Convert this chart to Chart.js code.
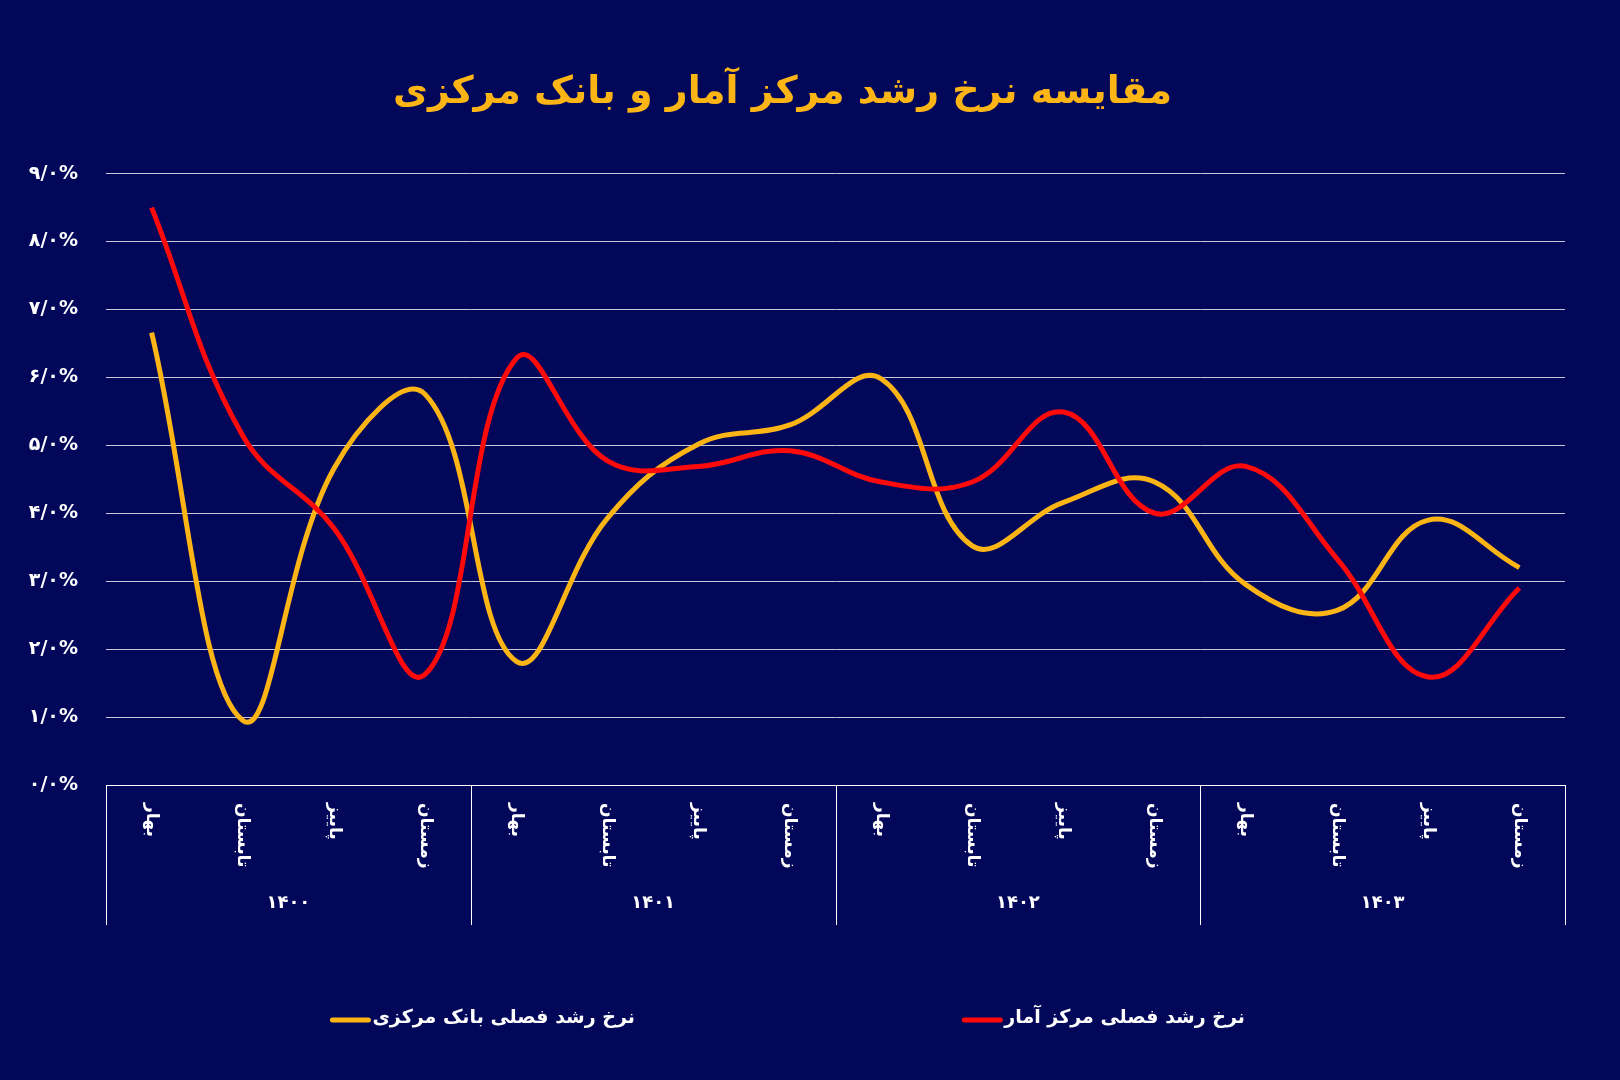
<!DOCTYPE html>
<html><head><meta charset="utf-8">
<script src="https://cdn.jsdelivr.net/npm/chart.js@4"></script>
<style>html,body{margin:0;padding:0;background:#03075a;}#w{width:1620px;height:1080px;}</style>
</head><body><div id="w"><canvas id="c"></canvas></div>
<script>
const years = ['۱۴۰۰','۱۴۰۱','۱۴۰۲','۱۴۰۳'];
const categories = ['بهار','تابستان','پاییز','زمستان','بهار','تابستان','پاییز','زمستان','بهار','تابستان','پاییز','زمستان','بهار','تابستان','پاییز','زمستان'];
const statCenter = [8.5,5.14,3.78,1.63, 6.28,4.77,4.69,4.92, 4.46,4.46,5.49,4.0, 4.69,3.33,1.59,2.9];
const centralBank = [6.66,0.95,4.66,5.75, 1.82,3.93,5.02,5.3, 5.98,3.52,4.16,4.46, 2.95,2.57,3.9,3.2];
const yTickLabels = ['۰/۰%','۱/۰%','۲/۰%','۳/۰%','۴/۰%','۵/۰%','۶/۰%','۷/۰%','۸/۰%','۹/۰%'];
const seriesNames = ['نرخ رشد فصلی مرکز آمار','نرخ رشد فصلی بانک مرکزی'];
const FONT = "'DejaVu Sans', sans-serif";

const axisPlugin = {
  id:'axisPlugin',
  afterDraw(chart){
    const {ctx, chartArea:a, scales:{x}} = chart;
    const bottom = a.bottom + 140;
    ctx.save();
    ctx.strokeStyle='#ffffff'; ctx.lineWidth=1;
    ctx.beginPath(); ctx.moveTo(a.left,a.bottom+0.5); ctx.lineTo(a.right,a.bottom+0.5); ctx.stroke();
    const w = (a.right-a.left)/categories.length;
    for(let g=0; g<=years.length; g++){
      const px = Math.round(a.left + g*4*w)+0.5;
      ctx.beginPath(); ctx.moveTo(px,a.bottom); ctx.lineTo(px,bottom); ctx.stroke();
    }
    ctx.fillStyle='#ffffff';
    ctx.font = "bold 17px "+FONT;
    categories.forEach((c,i)=>{
      const px = x.getPixelForValue(i);
      ctx.save(); ctx.translate(px, a.bottom+18); ctx.rotate(Math.PI/2);
      ctx.textAlign='left'; ctx.textBaseline='middle';
      ctx.fillText(c,0,0); ctx.restore();
    });
    ctx.font = "bold 18px "+FONT; ctx.textAlign='center'; ctx.textBaseline='middle';
    years.forEach((y,g)=>{ ctx.fillText(y, a.left + (g*4+2)*w, a.bottom+118); });
    const ly = 1018;
    const items = [{t:seriesNames[1], c:'#fdb515', x:635},{t:seriesNames[0], c:'#ff0a0a', x:1245}];
    ctx.font = "bold 19px "+FONT; ctx.textAlign='right';
    items.forEach(it=>{
      ctx.fillStyle='#ffffff'; ctx.fillText(it.t, it.x, ly);
      const tw = ctx.measureText(it.t).width;
      ctx.strokeStyle=it.c; ctx.lineWidth=5; ctx.lineCap='round';
      ctx.beginPath(); ctx.moveTo(it.x-tw-4, ly+2); ctx.lineTo(it.x-tw-40, ly+2); ctx.stroke();
    });
    ctx.restore();
  }
};

new Chart(document.getElementById('c'),{
  type:'line',
  data:{labels:categories, datasets:[
    {label:seriesNames[0], data:statCenter, borderColor:'#ff0a0a', borderWidth:5, tension:0.4, pointRadius:0},
    {label:seriesNames[1], data:centralBank, borderColor:'#fdb515', borderWidth:5, tension:0.4, pointRadius:0}
  ]},
  options:{
    responsive:true, maintainAspectRatio:false, animation:false,
    layout:{padding:{left:0,right:55,top:10,bottom:155}},
    plugins:{
      title:{display:true, text:'مقایسه نرخ رشد مرکز آمار و بانک مرکزی', color:'#fdb515', font:{family:FONT,size:38,weight:'bold'}, padding:{top:60,bottom:58}},
      legend:{display:false},
      tooltip:{enabled:false}
    },
    scales:{
      x:{offset:true, grid:{display:false}, border:{display:false}, ticks:{display:false}, afterFit(s){s.height=140;}},
      y:{min:0,max:9, grid:{color:'#c8c8d8', lineWidth:1, drawTicks:false}, border:{display:false},
         ticks:{stepSize:1, color:'#ffffff', padding:28, font:{family:FONT,size:19,weight:'bold'}, callback:(v)=>yTickLabels[v]},
         afterFit(s){s.width=106;}}
    }
  },
  plugins:[axisPlugin]
});
</script></body></html>
